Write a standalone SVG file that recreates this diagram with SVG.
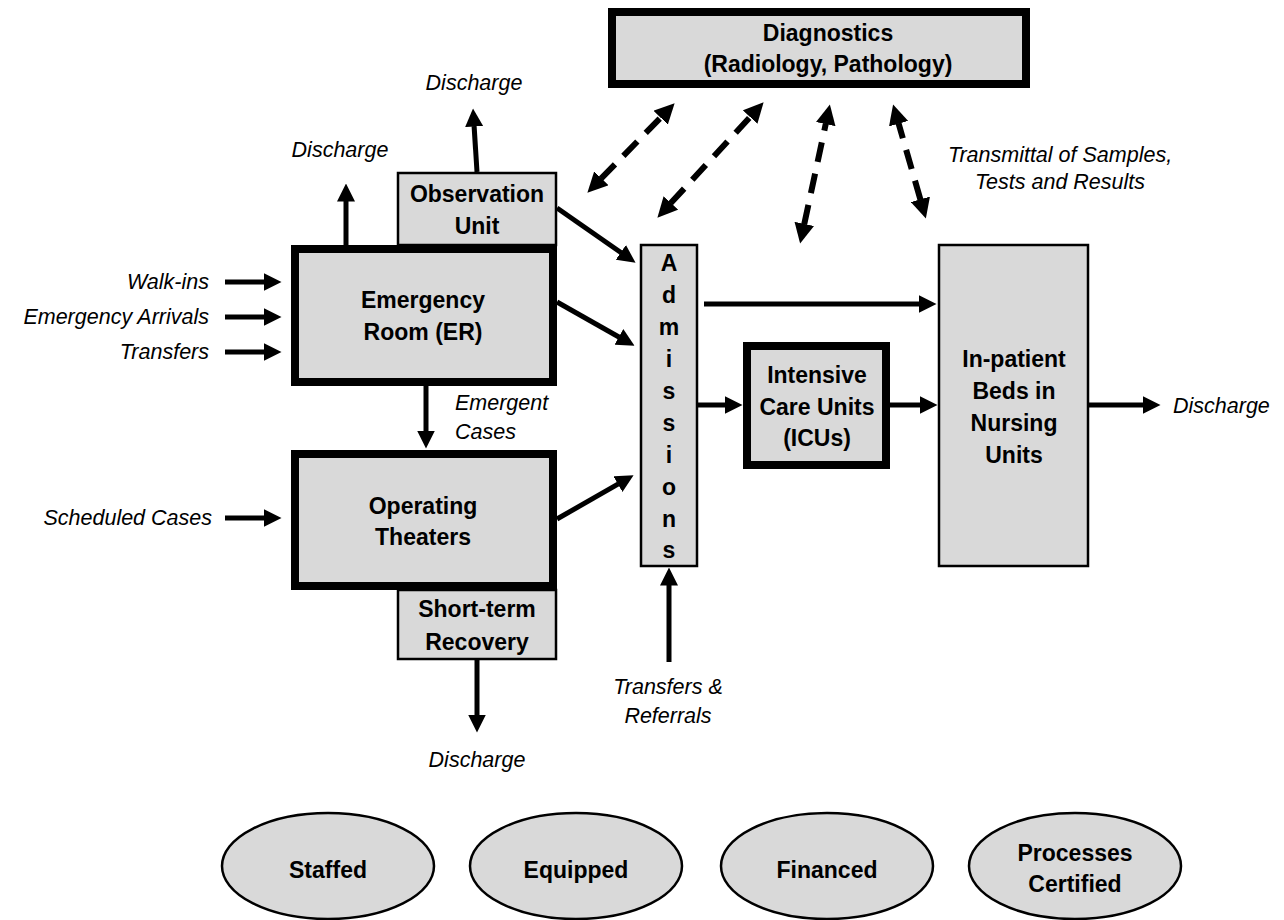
<svg xmlns="http://www.w3.org/2000/svg" width="1284" height="920" viewBox="0 0 1284 920">
<style>
.box{fill:#d9d9d9;stroke:#000;stroke-width:2.5}
.thick{fill:#d9d9d9;stroke:#000;stroke-width:8}
.ell{fill:#d9d9d9;stroke:#000;stroke-width:2.5}
.lb{font-family:"Liberation Sans",Arial,sans-serif;font-weight:bold;font-size:23px;fill:#000;text-anchor:middle}
.it{font-family:"Liberation Sans",Arial,sans-serif;font-style:italic;font-size:21.5px;fill:#000}
.c{stroke:#000;stroke-width:5;fill:none;marker-end:url(#ah)}
.d{stroke:#000;stroke-width:6;fill:none;stroke-dasharray:20 12;marker-end:url(#ah2);marker-start:url(#ah2)}
</style>
<defs>
<marker id="ah" markerUnits="userSpaceOnUse" markerWidth="18" markerHeight="18" viewBox="0 0 18 18" refX="0.5" refY="9" orient="auto-start-reverse">
<path d="M0,0 L18,9 L0,18 z" fill="#000"/>
</marker>
<marker id="ah2" markerUnits="userSpaceOnUse" markerWidth="20" markerHeight="20" viewBox="0 0 20 20" refX="0.5" refY="10" orient="auto-start-reverse">
<path d="M0,0 L20,10 L0,20 z" fill="#000"/>
</marker>
</defs>
<rect width="1284" height="920" fill="#fff"/>

<g id="connectors">
<line class="c" x1="557" y1="208" x2="621.2" y2="252.7"/>
<line class="c" x1="557" y1="302" x2="619.3" y2="337.2"/>
<line class="c" x1="557" y1="519" x2="618.4" y2="483.9"/>
<line class="c" x1="704" y1="304" x2="919" y2="304"/>
<line class="c" x1="697" y1="405" x2="725" y2="405"/>
<line class="c" x1="890" y1="405" x2="920" y2="405"/>
<line class="c" x1="1088" y1="405" x2="1143" y2="405"/>
<line class="c" x1="426" y1="386" x2="426" y2="431"/>
<line class="c" x1="225" y1="282" x2="264" y2="282"/>
<line class="c" x1="225" y1="317" x2="264" y2="317"/>
<line class="c" x1="225" y1="352" x2="264" y2="352"/>
<line class="c" x1="225" y1="518" x2="264" y2="518"/>
<line class="c" x1="346" y1="245" x2="346" y2="201"/>
<line class="c" x1="477" y1="172" x2="474.1" y2="126"/>
<line class="c" x1="477" y1="660" x2="477" y2="715"/>
<line class="c" x1="669" y1="662" x2="669" y2="585"/>
<line class="d" x1="601" y1="178.7" x2="661" y2="117.3"/>
<line class="d" x1="670.6" y1="203.3" x2="750.4" y2="116.7"/>
<line class="d" x1="804.2" y1="224.4" x2="825.8" y2="123.6"/>
<line class="d" x1="920.5" y1="199.8" x2="898.5" y2="123.2"/>
</g>

<g id="diagnostics">
<rect class="thick" x="612" y="12" width="414" height="72"/>
<text class="lb" x="828" y="41">Diagnostics</text>
<text class="lb" x="828" y="72">(Radiology, Pathology)</text>
</g>

<g id="observation">
<rect class="box" x="398" y="173" width="158" height="72"/>
<text class="lb" x="477" y="202">Observation</text>
<text class="lb" x="477" y="234">Unit</text>
</g>

<g id="er">
<rect class="thick" x="295" y="249" width="258" height="133"/>
<text class="lb" x="423" y="308">Emergency</text>
<text class="lb" x="423" y="340">Room (ER)</text>
</g>

<g id="ot">
<rect class="thick" x="295" y="454" width="258" height="132"/>
<text class="lb" x="423" y="514">Operating</text>
<text class="lb" x="423" y="545">Theaters</text>
</g>

<g id="recovery">
<rect class="box" x="398" y="590" width="158" height="69"/>
<text class="lb" x="477" y="617">Short-term</text>
<text class="lb" x="477" y="650">Recovery</text>
</g>

<g id="admissions">
<rect class="box" x="641" y="245" width="56" height="321"/>
<text class="lb" x="669" y="271">A</text>
<text class="lb" x="669" y="303">d</text>
<text class="lb" x="669" y="335">m</text>
<text class="lb" x="669" y="367">i</text>
<text class="lb" x="669" y="399">s</text>
<text class="lb" x="669" y="431">s</text>
<text class="lb" x="669" y="463">i</text>
<text class="lb" x="669" y="495">o</text>
<text class="lb" x="669" y="527">n</text>
<text class="lb" x="669" y="558">s</text>
</g>

<g id="icu">
<rect class="thick" x="747" y="346" width="139" height="119"/>
<text class="lb" x="817" y="383">Intensive</text>
<text class="lb" x="817" y="415">Care Units</text>
<text class="lb" x="817" y="446">(ICUs)</text>
</g>

<g id="inpatient">
<rect class="box" x="939" y="245" width="149" height="321"/>
<text class="lb" x="1014" y="367">In-patient</text>
<text class="lb" x="1014" y="399">Beds in</text>
<text class="lb" x="1014" y="431">Nursing</text>
<text class="lb" x="1014" y="463">Units</text>
</g>

<g id="labels">
<text class="it" x="209" y="289" text-anchor="end">Walk-ins</text>
<text class="it" x="209" y="324" text-anchor="end">Emergency Arrivals</text>
<text class="it" x="209" y="359" text-anchor="end">Transfers</text>
<text class="it" x="212" y="525" text-anchor="end">Scheduled Cases</text>
<text class="it" x="340" y="157" text-anchor="middle">Discharge</text>
<text class="it" x="474" y="90" text-anchor="middle">Discharge</text>
<text class="it" x="477" y="767" text-anchor="middle">Discharge</text>
<text class="it" x="1173" y="413">Discharge</text>
<text class="it" x="455" y="410">Emergent</text>
<text class="it" x="455" y="439">Cases</text>
<text class="it" x="668" y="694" text-anchor="middle">Transfers &amp;</text>
<text class="it" x="668" y="723" text-anchor="middle">Referrals</text>
<text class="it" x="1060" y="162" text-anchor="middle">Transmittal of Samples,</text>
<text class="it" x="1060" y="189" text-anchor="middle">Tests and Results</text>
</g>

<g id="staffed">
<ellipse class="ell" cx="328" cy="866" rx="106" ry="53"/>
<text class="lb" x="328" y="878">Staffed</text>
</g>
<g id="equipped">
<ellipse class="ell" cx="576" cy="866" rx="106" ry="53"/>
<text class="lb" x="576" y="878">Equipped</text>
</g>
<g id="financed">
<ellipse class="ell" cx="827" cy="866" rx="106" ry="53"/>
<text class="lb" x="827" y="878">Financed</text>
</g>
<g id="processes">
<ellipse class="ell" cx="1075" cy="866" rx="106" ry="53"/>
<text class="lb" x="1075" y="861">Processes</text>
<text class="lb" x="1075" y="892">Certified</text>
</g>
</svg>
